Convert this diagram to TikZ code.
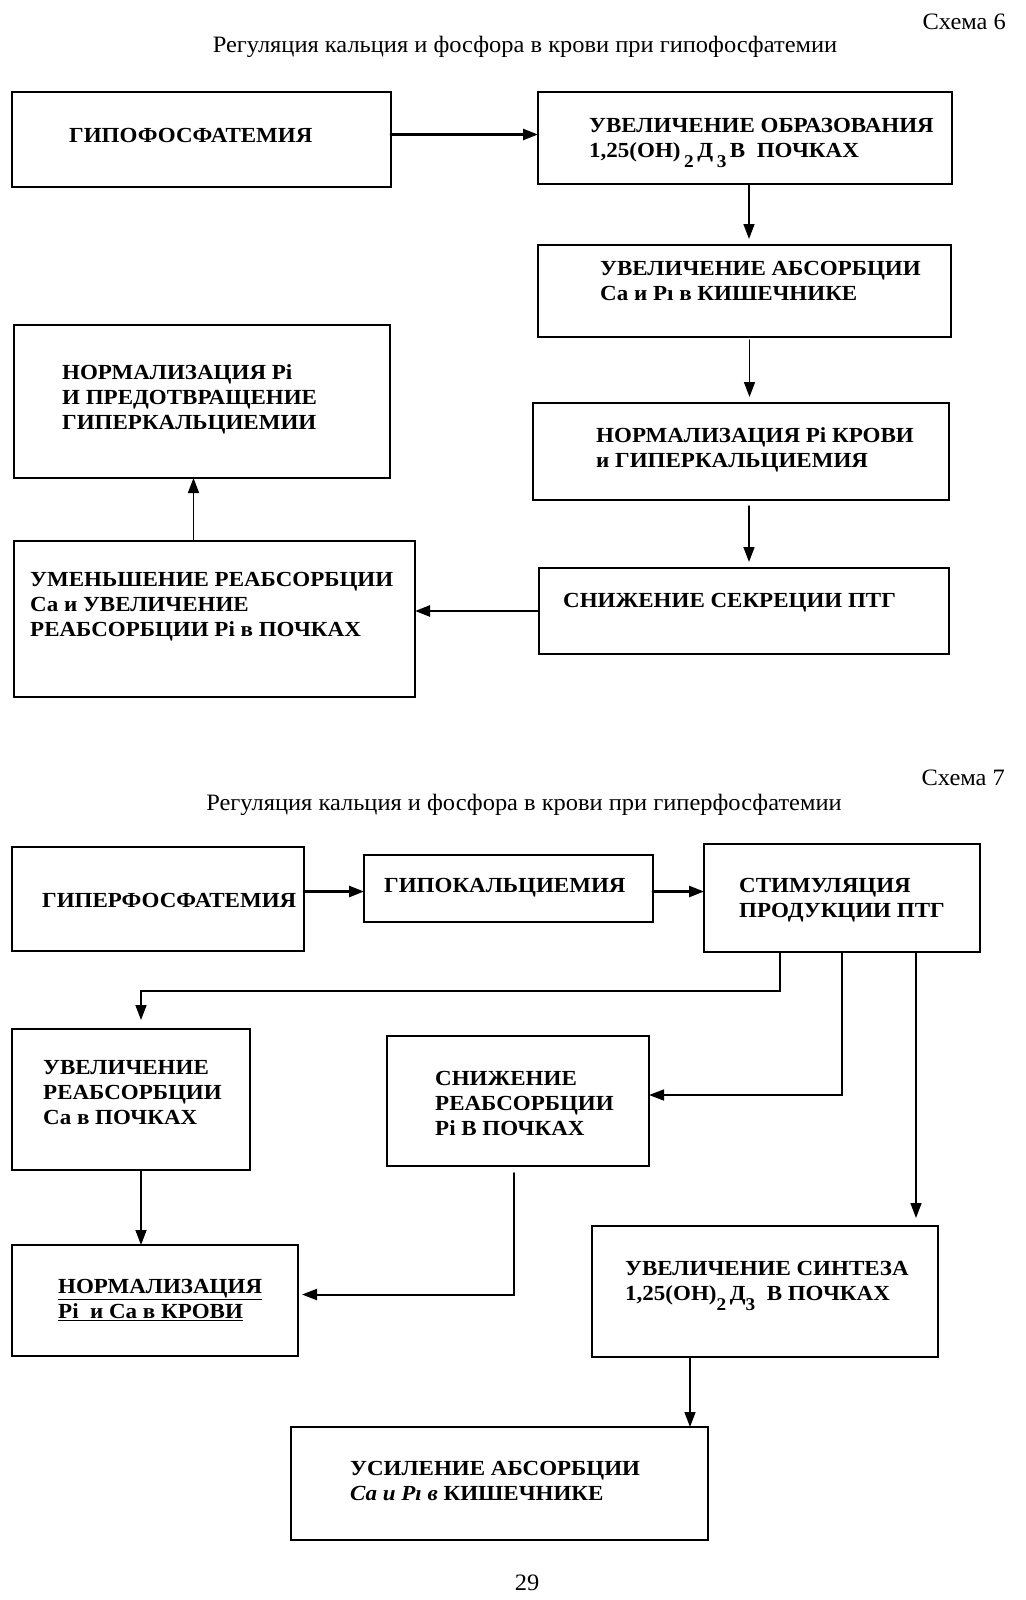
\documentclass[tikz,border=0pt]{standalone}
\usepackage{fontspec}
\setmainfont{Liberation Serif}
\newfontfamily\blokfont[FakeStretch=1.07]{Liberation Serif}
\newfontfamily\zagfont[FakeStretch=1.04]{Liberation Serif}
\usetikzlibrary{arrows.meta}
\newcommand{\vv}{\rule{0pt}{20pt}}
\newcommand{\sbs}[1]{\raisebox{-10pt}{\fontsize{18}{18}\selectfont #1}}

\begin{document}
\begin{tikzpicture}[x=1pt,y=-1pt,>={Triangle[length=15pt,width=11pt]},line cap=round,
  blok/.style={draw,line width=1.8pt,inner sep=0pt,outer sep=0pt,anchor=north west},
  txt/.style={anchor=north west,inner sep=0pt,align=left,font=\blokfont\fontsize{21.5}{25}\selectfont\bfseries},
  ttl/.style={inner sep=0pt,font=\zagfont\fontsize{23.5}{27}\selectfont},
  strelka/.style={->,line width=1.5pt},
  tolst/.style={->,line width=2.6pt}]
\fill[white] (0,0) rectangle (1025,1600);
\useasboundingbox (0,0) rectangle (1025,1600);

% Схема 6
\node[ttl,anchor=base east] (sh6) at (1006,30) {Схема 6};
\node[ttl,anchor=base] (zag6) at (525,53) {Регуляция кальция и фосфора в крови при гипофосфатемии};

\node[blok,minimum width=379pt,minimum height=95pt] (gipo) at (12,92) {};
\node[txt] (gipo-t) at (69,122) {\vv ГИПОФОСФАТЕМИЯ};
\node[blok,minimum width=414pt,minimum height=92pt] (obraz) at (538,92) {};
\node[txt] (obraz-t) at (589,112) {\vv УВЕЛИЧЕНИЕ ОБРАЗОВАНИЯ\\1,25(OH)\,\sbs{2}\,Д\,\sbs{3}\,В~~ПОЧКАХ};
\node[blok,minimum width=413pt,minimum height=92pt] (absorb) at (538,245) {};
\node[txt] (absorb-t) at (600,255) {\vv УВЕЛИЧЕНИЕ АБСОРБЦИИ\\Ca и Pı в КИШЕЧНИКЕ};
\node[blok,minimum width=416pt,minimum height=97pt] (norm) at (533,403) {};
\node[txt] (norm-t) at (596,422) {\vv НОРМАЛИЗАЦИЯ Pi КРОВИ\\и ГИПЕРКАЛЬЦИЕМИЯ};
\node[blok,minimum width=410pt,minimum height=86pt] (snizh) at (539,568) {};
\node[txt] (snizh-t) at (563,587) {\vv СНИЖЕНИЕ СЕКРЕЦИИ ПТГ};
\node[blok,minimum width=401pt,minimum height=156pt] (umen) at (14,541) {};
\node[txt] (umen-t) at (30,566) {\vv УМЕНЬШЕНИЕ РЕАБСОРБЦИИ\\Ca и УВЕЛИЧЕНИЕ\\РЕАБСОРБЦИИ Pi в ПОЧКАХ};
\node[blok,minimum width=376pt,minimum height=153pt] (predotv) at (14,325) {};
\node[txt] (predotv-t) at (62,359) {\vv НОРМАЛИЗАЦИЯ Pi\\И ПРЕДОТВРАЩЕНИЕ\\ГИПЕРКАЛЬЦИЕМИИ};

\draw[tolst] ([yshift=5pt]gipo.east) -- ([yshift=5pt]gipo.east -| obraz.west);
\draw[strelka,shorten >=6pt] ([xshift=4pt]obraz.south) -- ([xshift=4pt]obraz.south |- absorb.north);
\draw[strelka,shorten <=3pt,shorten >=6pt] ([xshift=5pt]absorb.south) -- ([xshift=5pt]absorb.south |- norm.north);
\draw[strelka,shorten <=6pt,shorten >=6pt] ([xshift=8pt]norm.south) -- ([xshift=8pt]norm.south |- snizh.north);
\draw[tolst] (snizh.west) -- (snizh.west -| umen.east);
\draw[strelka] ([xshift=-21pt]umen.north) -- ([xshift=-21pt]umen.north |- predotv.south);

% Схема 7
\node[ttl,anchor=base east] (sh7) at (1005,785) {Схема 7};
\node[ttl,anchor=base] (zag7) at (524,810) {Регуляция кальция и фосфора в крови при гиперфосфатемии};

\node[blok,minimum width=292pt,minimum height=104pt] (giper) at (12,847) {};
\node[txt] (giper-t) at (42,887) {\vv ГИПЕРФОСФАТЕМИЯ};
\node[blok,minimum width=289pt,minimum height=67pt] (gipok) at (364,855) {};
\node[txt] (gipok-t) at (384,872) {\vv ГИПОКАЛЬЦИЕМИЯ};
\node[blok,minimum width=276pt,minimum height=108pt] (stim) at (704,844) {};
\node[txt] (stim-t) at (739,872) {\vv СТИМУЛЯЦИЯ\\ПРОДУКЦИИ ПТГ};
\node[blok,minimum width=238pt,minimum height=141pt] (uvreab) at (12,1029) {};
\node[txt] (uvreab-t) at (43,1054) {\vv УВЕЛИЧЕНИЕ\\РЕАБСОРБЦИИ\\Ca в ПОЧКАХ};
\node[blok,minimum width=262pt,minimum height=130pt] (snreab) at (387,1036) {};
\node[txt] (snreab-t) at (435,1065) {\vv СНИЖЕНИЕ\\РЕАБСОРБЦИИ\\Pi В ПОЧКАХ};
\node[blok,minimum width=286pt,minimum height=111pt] (normca) at (12,1245) {};
\node[txt] (normca-t) at (58,1273) {\vv\underline{НОРМАЛИЗАЦИЯ}\\\underline{Pi~~и Ca в КРОВИ}};
\node[blok,minimum width=346pt,minimum height=131pt] (sint) at (592,1226) {};
\node[txt] (sint-t) at (625,1255) {\vv УВЕЛИЧЕНИЕ СИНТЕЗА\\1,25(OH)\sbs{2}\,Д\sbs{3}~~В ПОЧКАХ};
\node[blok,minimum width=417pt,minimum height=113pt] (usil) at (291,1427) {};
\node[txt] (usil-t) at (350,1455) {\vv УСИЛЕНИЕ АБСОРБЦИИ\\\textit{Ca и Pı в} КИШЕЧНИКЕ};

\draw[tolst] ([yshift=-3pt]gipok.west -| giper.east) -- ([yshift=-3pt]gipok.west);
\draw[tolst] ([yshift=-3pt]gipok.east) -- ([yshift=-3pt]gipok.east -| stim.west);
\draw[strelka,shorten >=9pt] ([xshift=-62pt]stim.south) -- ++(0,39) -| ([xshift=10pt]uvreab.north);
\draw[strelka] (stim.south) |- ([yshift=6pt]snreab.east);
\draw[strelka,shorten >=8pt] ([xshift=74pt]stim.south) -- ([xshift=74pt]stim.south |- sint.north);
\draw[strelka] ([xshift=10pt]uvreab.south) -- ([xshift=10pt]uvreab.south |- normca.north);
\draw[strelka,line width=2pt,shorten >=4pt] ([xshift=-4pt,yshift=-7pt]snreab.south) |- ([yshift=6pt]normca.east);
\draw[strelka] ([xshift=-75pt]sint.south) -- ([xshift=-75pt]sint.south |- usil.north);

\node[ttl,anchor=base] (str) at (527,1590) {29};
\end{tikzpicture}
\end{document}
